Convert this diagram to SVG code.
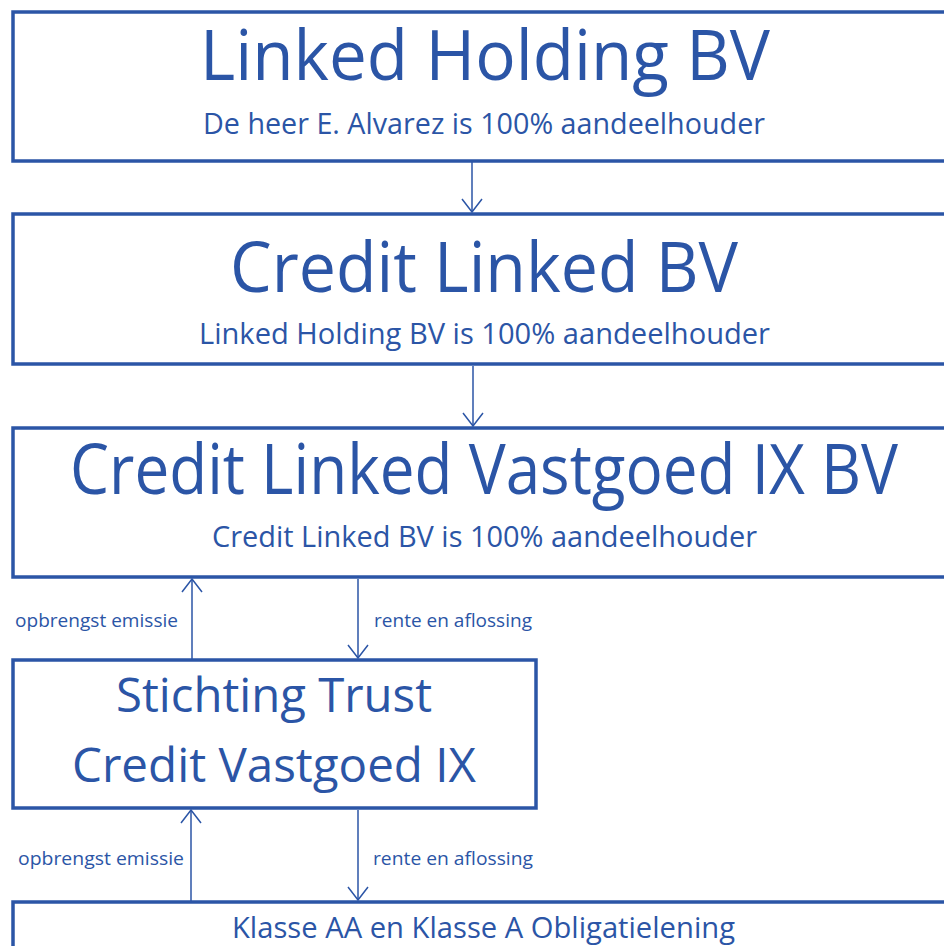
<svg xmlns="http://www.w3.org/2000/svg" width="944" height="946" viewBox="0 0 944 946">
<style>
.box{fill:#fff;stroke:#2B55A6;stroke-width:3.5}
text{font-family:"Open Sans","Noto Sans","Liberation Sans",sans-serif;fill:#2B55A6;text-anchor:middle}
.t1{font-size:70px}
.t2{font-size:29px}
.t3{font-size:48px}
.lb{font-size:19px;text-anchor:start}
.con{stroke:#2B55A6;stroke-width:1.5;fill:none}
</style>
<defs>
<marker id="arr" markerUnits="userSpaceOnUse" markerWidth="30" markerHeight="30" viewBox="-15 -15 30 30" refX="0" refY="0" orient="auto">
<path d="M-13,-10 L0,0 L-13,10" fill="none" stroke="#2B55A6" stroke-width="1.5"/>
</marker>
</defs>
<rect width="944" height="946" fill="#fff"/>
<g id="connectors" class="con">
<line x1="472" y1="162" x2="472" y2="212" marker-end="url(#arr)"/>
<line x1="473" y1="366" x2="473" y2="426" marker-end="url(#arr)"/>
<line x1="192" y1="659" x2="192" y2="579" marker-end="url(#arr)"/>
<line x1="358" y1="579" x2="358" y2="658" marker-end="url(#arr)"/>
<line x1="191" y1="901" x2="191" y2="810" marker-end="url(#arr)"/>
<line x1="358" y1="810" x2="358" y2="900" marker-end="url(#arr)"/>
</g>
<g id="labels">
<text class="lb" x="15" y="627" textLength="163" lengthAdjust="spacingAndGlyphs">opbrengst emissie</text>
<text class="lb" x="374" y="627" textLength="158" lengthAdjust="spacingAndGlyphs">rente en aflossing</text>
<text class="lb" x="18" y="865" textLength="166" lengthAdjust="spacingAndGlyphs">opbrengst emissie</text>
<text class="lb" x="373" y="865" textLength="160" lengthAdjust="spacingAndGlyphs">rente en aflossing</text>
</g>
<g id="node-linked-holding">
<rect class="box" x="13" y="12" width="933" height="149"/>
<text class="t1" x="485" y="80" textLength="570" lengthAdjust="spacingAndGlyphs">Linked Holding BV</text>
<text class="t2" x="484" y="134" textLength="562" lengthAdjust="spacingAndGlyphs">De heer E. Alvarez is 100% aandeelhouder</text>
</g>
<g id="node-credit-linked">
<rect class="box" x="13" y="214" width="933" height="150"/>
<text class="t1" x="484" y="292" textLength="508" lengthAdjust="spacingAndGlyphs">Credit Linked BV</text>
<text class="t2" x="484.5" y="344" textLength="571" lengthAdjust="spacingAndGlyphs">Linked Holding BV is 100% aandeelhouder</text>
</g>
<g id="node-credit-linked-vastgoed">
<rect class="box" x="13" y="428" width="933" height="149"/>
<text class="t1" x="484" y="494" textLength="828" lengthAdjust="spacingAndGlyphs">Credit Linked Vastgoed IX BV</text>
<text class="t2" x="484.5" y="547" textLength="545" lengthAdjust="spacingAndGlyphs">Credit Linked BV is 100% aandeelhouder</text>
</g>
<g id="node-stichting">
<rect class="box" x="13" y="660" width="523" height="148"/>
<text class="t3" x="274" y="712" textLength="316" lengthAdjust="spacingAndGlyphs">Stichting Trust</text>
<text class="t3" x="274" y="782" textLength="404" lengthAdjust="spacingAndGlyphs">Credit Vastgoed IX</text>
</g>
<g id="node-obligatielening">
<rect class="box" x="13" y="902" width="933" height="100"/>
<text class="t2" x="483.5" y="938" textLength="503" lengthAdjust="spacingAndGlyphs">Klasse AA en Klasse A Obligatielening</text>
</g>
</svg>
